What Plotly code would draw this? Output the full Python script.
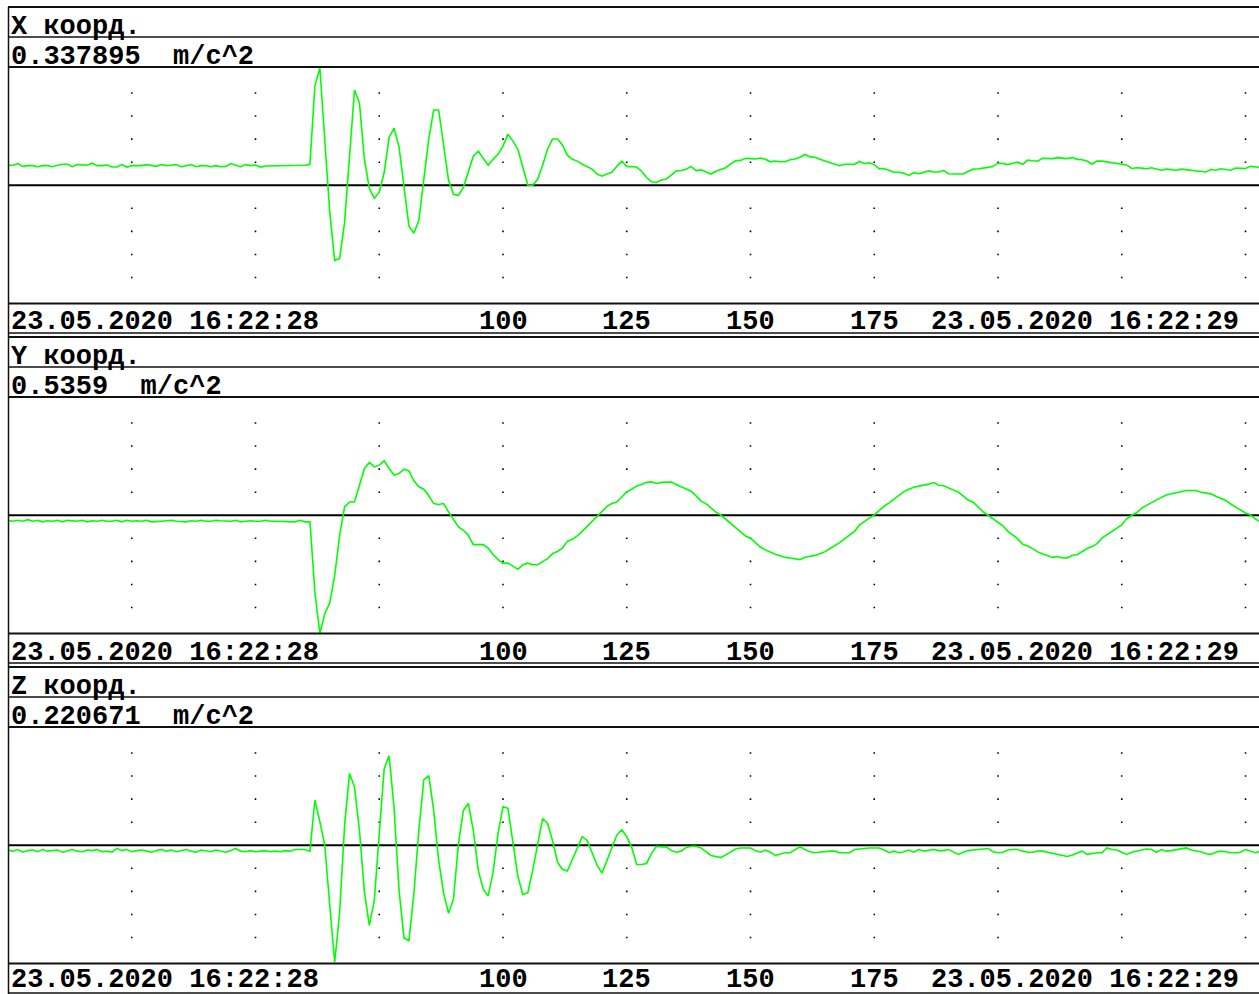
import plotly.graph_objects as go

# ---------------- data (acceleration, m/c^2; one sample per x unit) ----------------
X_ACC = [
    0.057, 0.057, 0.062, 0.054, 0.056, 0.056, 0.053, 0.056, 0.056, 0.053,
    0.057, 0.060, 0.060, 0.053, 0.059, 0.057, 0.057, 0.063, 0.056, 0.056,
    0.058, 0.052, 0.052, 0.059, 0.052, 0.056, 0.056, 0.056, 0.059, 0.056,
    0.054, 0.059, 0.056, 0.057, 0.059, 0.053, 0.056, 0.059, 0.053, 0.056,
    0.056, 0.053, 0.056, 0.053, 0.054, 0.062, 0.057, 0.053, 0.059, 0.056,
    0.058, 0.052, 0.055, 0.055, 0.055, 0.055, 0.055, 0.055, 0.055, 0.056, 0.057,
    0.060, 0.284, 0.335, 0.129, -0.077, -0.215, -0.209, -0.106, 0.086, 0.272,
    0.235, 0.074, -0.009, -0.037, -0.020, 0.037, 0.137, 0.163, 0.109, -0.011,
    -0.117, -0.137, -0.100, 0.017, 0.132, 0.215, 0.215, 0.115, 0.014, -0.026,
    -0.029, -0.006, 0.037, 0.083, 0.097, 0.077, 0.057, 0.074, 0.089, 0.112,
    0.146, 0.126, 0.103, 0.052, 0.000, 0.000, 0.017, 0.057, 0.103, 0.132,
    0.132, 0.115, 0.086, 0.074, 0.069, 0.060, 0.054, 0.046, 0.032, 0.026,
    0.032, 0.037, 0.054, 0.069, 0.054, 0.054, 0.052, 0.040,
    0.022, 0.010, 0.008, 0.015, 0.018, 0.029, 0.041, 0.042, 0.046, 0.054,
    0.042, 0.044, 0.039, 0.032, 0.040, 0.046, 0.050, 0.061, 0.070, 0.071,
    0.077, 0.076, 0.075, 0.078, 0.074, 0.067, 0.069, 0.067, 0.067, 0.073,
    0.075, 0.080, 0.088, 0.081, 0.080, 0.074, 0.069, 0.065, 0.061, 0.056,
    0.060, 0.061, 0.060, 0.068, 0.062, 0.064, 0.059, 0.047, 0.047, 0.043,
    0.037, 0.037, 0.034, 0.028, 0.036, 0.033, 0.037, 0.041, 0.038, 0.038,
    0.042, 0.033, 0.032, 0.032, 0.032, 0.040, 0.046, 0.047, 0.048, 0.051,
    0.054, 0.063, 0.062, 0.059, 0.063, 0.066, 0.060, 0.072, 0.070, 0.069,
    0.077, 0.076, 0.076, 0.079, 0.077, 0.076, 0.079, 0.074, 0.073, 0.069,
    0.060, 0.069, 0.069, 0.067, 0.065, 0.063, 0.061, 0.058, 0.048, 0.050,
    0.049, 0.047, 0.050, 0.047, 0.043, 0.046, 0.044, 0.043, 0.046, 0.044,
    0.042, 0.040, 0.039, 0.038, 0.045, 0.043, 0.047, 0.044, 0.043, 0.049,
    0.049, 0.048, 0.054, 0.053, 0.051,
]

Y_ACC = [
    -0.023, -0.027, -0.023, -0.027, -0.020, -0.027, -0.023, -0.030, -0.025, -0.027,
    -0.023, -0.030, -0.023, -0.025, -0.027, -0.023, -0.030, -0.025, -0.027, -0.023,
    -0.027, -0.027, -0.023, -0.030, -0.023, -0.027, -0.025, -0.027, -0.023, -0.030,
    -0.027, -0.027, -0.025, -0.023, -0.027, -0.027, -0.030, -0.025, -0.027, -0.023,
    -0.027, -0.027, -0.023, -0.025, -0.027, -0.027, -0.023, -0.030, -0.027, -0.025,
    -0.027, -0.027, -0.023, -0.027, -0.027, -0.027, -0.027, -0.030, -0.030, -0.023, -0.030,
    -0.030, -0.348, -0.536, -0.446, -0.397, -0.273, -0.091, 0.038, 0.060, 0.060,
    0.136, 0.212, 0.239, 0.219, 0.227, 0.247, 0.212, 0.182, 0.189, 0.209,
    0.201, 0.156, 0.129, 0.118, 0.088, 0.053, 0.049, 0.053, 0.015, -0.018,
    -0.053, -0.068, -0.091, -0.133, -0.133, -0.133, -0.149, -0.178, -0.201, -0.217,
    -0.217, -0.232, -0.245, -0.224, -0.217, -0.224, -0.224, -0.210, -0.197, -0.174,
    -0.164, -0.149, -0.118, -0.109, -0.094, -0.073, -0.051, -0.030, -0.008, 0.015,
    0.040, 0.053, 0.060, 0.083, 0.106, 0.118, 0.133, 0.139,
    0.149, 0.151, 0.144, 0.149, 0.150, 0.150, 0.139, 0.130, 0.121, 0.109,
    0.088, 0.064, 0.053, 0.033, 0.014, 0.001, -0.019, -0.039, -0.056, -0.075,
    -0.094, -0.104, -0.124, -0.144, -0.157, -0.168, -0.177, -0.184, -0.191, -0.194,
    -0.199, -0.201, -0.190, -0.186, -0.182, -0.174, -0.166, -0.152, -0.139, -0.124,
    -0.107, -0.091, -0.073, -0.045, -0.027, -0.013, 0.002, 0.022, 0.041, 0.056,
    0.072, 0.087, 0.107, 0.118, 0.127, 0.132, 0.135, 0.141, 0.148, 0.136,
    0.134, 0.125, 0.114, 0.105, 0.087, 0.068, 0.059, 0.038, 0.015, 0.000,
    -0.017, -0.034, -0.048, -0.073, -0.091, -0.107, -0.132, -0.139, -0.151, -0.166,
    -0.175, -0.183, -0.191, -0.187, -0.194, -0.193, -0.181, -0.179, -0.164, -0.151,
    -0.142, -0.129, -0.104, -0.090, -0.075, -0.060, -0.044, -0.016, 0.000, 0.011,
    0.031, 0.045, 0.058, 0.071, 0.081, 0.092, 0.097, 0.103, 0.108, 0.112,
    0.112, 0.112, 0.104, 0.099, 0.097, 0.086, 0.076, 0.067, 0.051, 0.036,
    0.022, 0.010, 0.002, -0.017, -0.030,
]

Z_ACC = [
    -0.009, -0.011, -0.008, -0.013, -0.010, -0.009, -0.012, -0.008, -0.011, -0.010,
    -0.009, -0.013, -0.010, -0.008, -0.011, -0.012, -0.009, -0.010, -0.008, -0.012,
    -0.011, -0.013, -0.006, -0.010, -0.008, -0.012, -0.010, -0.009, -0.011, -0.013,
    -0.010, -0.008, -0.011, -0.009, -0.012, -0.010, -0.008, -0.011, -0.013, -0.009,
    -0.010, -0.012, -0.009, -0.011, -0.013, -0.010, -0.006, -0.011, -0.012, -0.010,
    -0.012, -0.011, -0.010, -0.012, -0.011, -0.012, -0.010, -0.011, -0.008, -0.008, -0.008,
    -0.011, 0.084, 0.044, 0.000, -0.112, -0.218, -0.125, 0.037, 0.134, 0.109,
    0.028, -0.087, -0.150, -0.103, 0.021, 0.143, 0.167, 0.069, -0.084, -0.173,
    -0.178, -0.090, 0.028, 0.122, 0.130, 0.065, -0.028, -0.089, -0.127, -0.100,
    0.003, 0.065, 0.078, 0.028, -0.047, -0.082, -0.095, -0.050, 0.022, 0.072,
    0.069, 0.009, -0.058, -0.092, -0.089, -0.047, 0.003, 0.050, 0.041, 0.009,
    -0.031, -0.045, -0.048, -0.027, -0.003, 0.016, 0.009, -0.016, -0.037, -0.052,
    -0.028, -0.006, 0.019, 0.029, 0.016, -0.004, -0.036, -0.036,
    -0.034, -0.015, -0.002, -0.003, -0.003, -0.010, -0.013, -0.011, -0.004, -0.002,
    -0.002, -0.005, -0.012, -0.019, -0.021, -0.023, -0.018, -0.013, -0.007, -0.005,
    -0.005, -0.005, -0.010, -0.013, -0.009, -0.013, -0.019, -0.016, -0.014, -0.014,
    -0.009, -0.003, -0.008, -0.012, -0.014, -0.013, -0.011, -0.011, -0.011, -0.014,
    -0.014, -0.014, -0.008, -0.007, -0.005, -0.005, -0.005, -0.005, -0.009, -0.014,
    -0.011, -0.014, -0.012, -0.009, -0.013, -0.008, -0.011, -0.009, -0.008, -0.010,
    -0.010, -0.008, -0.013, -0.017, -0.013, -0.010, -0.009, -0.008, -0.008, -0.006,
    -0.012, -0.014, -0.013, -0.009, -0.008, -0.008, -0.011, -0.013, -0.013, -0.011,
    -0.011, -0.013, -0.016, -0.018, -0.019, -0.021, -0.018, -0.015, -0.011, -0.017,
    -0.015, -0.014, -0.014, -0.005, -0.008, -0.009, -0.013, -0.017, -0.013, -0.011,
    -0.008, -0.007, -0.008, -0.013, -0.008, -0.011, -0.010, -0.008, -0.007, -0.005,
    -0.009, -0.010, -0.012, -0.016, -0.017, -0.013, -0.011, -0.012, -0.014, -0.014,
    -0.013, -0.008, -0.011, -0.014, -0.011,
]

PANEL_TITLES = ["X коорд.", "Y коорд.", "Z коорд."]
SCALE_TEXT = ["0.337895", "0.5359", "0.220671"]
SCALE_VALUES = [0.337895, 0.5359, 0.220671]
UNIT = "m/c^2"
TICK_VALUES = [100, 125, 150, 175]
START_LABEL = "23.05.2020 16:22:28"
END_LABEL = "23.05.2020 16:22:29"
GRID_X = [25, 50, 75, 100, 125, 150, 175, 200, 225, 250]
GRID_FRAC = [-0.78, -0.585, -0.39, -0.195, 0.195, 0.39, 0.585, 0.78]

# ---------------- layout geometry (pixels) ----------------
W, H = 1259, 994
LEFT = 8
PX_PER_UNIT = 4.95
PANEL_TOP = [7, 337, 667]       # top of each panel header
ROW = 30
PLOT_H = 236.5
LABEL_OFFSET = [19, 19, 16]     # label-row centre below plot bottom (last row kept inside page)
TEXT_LEFT = LEFT + 2.5

def py(p):
    return 1 - p / H

def px(p):
    return p / W

FONT = dict(family="Courier New, Liberation Mono, monospace", size=27, color="#000000", weight="bold")
GREEN = "#00ff00"
ANN = dict(showarrow=False, font=FONT, borderpad=0, borderwidth=0)

fig = go.Figure()
series = [X_ACC, Y_ACC, Z_ACC]
annotations = []
shapes = []

for k in range(3):
    sfx = "" if k == 0 else str(k + 1)
    xa, ya = "x" + sfx, "y" + sfx
    top = PANEL_TOP[k]
    plot_top = top + 2 * ROW
    plot_bot = plot_top + PLOT_H
    R = SCALE_VALUES[k]

    fig.update_layout(**{
        "xaxis" + sfx: dict(domain=[px(LEFT), 1], range=[0, (W - LEFT) / PX_PER_UNIT],
                            visible=False, anchor=ya, fixedrange=True),
        "yaxis" + sfx: dict(domain=[py(plot_bot), py(plot_top)], range=[-R, R],
                            visible=False, anchor=xa, fixedrange=True),
    })

    # dotted grid
    gx = [g for g in GRID_X for _ in GRID_FRAC]
    gy = [f * R for _ in GRID_X for f in GRID_FRAC]
    fig.add_trace(go.Scatter(x=gx, y=gy, mode="markers", xaxis=xa, yaxis=ya,
                             marker=dict(symbol="square", size=1.6, color="#000000"),
                             hoverinfo="skip", showlegend=False))
    # signal
    data = series[k]
    fig.add_trace(go.Scatter(x=list(range(len(data))), y=data, mode="lines",
                             xaxis=xa, yaxis=ya, line=dict(color=GREEN, width=1.6),
                             showlegend=False))
    # zero line
    shapes.append(dict(type="line", xref="paper", yref=ya, x0=px(LEFT), x1=1, y0=0, y1=0,
                       line=dict(color="#000000", width=2), layer="below"))

    # frame lines
    for yy, wdt in [(top, 2), (top + ROW, 1.5), (plot_top, 2), (plot_bot, 2), (plot_bot + ROW - 0.5, 1.5)]:
        shapes.append(dict(type="line", xref="paper", yref="paper", x0=px(LEFT), x1=1,
                           y0=py(yy), y1=py(yy), line=dict(color="#111111", width=wdt)))

    # header texts
    annotations.append(dict(text=PANEL_TITLES[k], xref="paper", yref="paper", x=px(TEXT_LEFT),
                            y=py(top + 20), xanchor="left", yanchor="middle", **ANN))
    annotations.append(dict(text=SCALE_TEXT[k] + "  " + UNIT, xref="paper", yref="paper", x=px(TEXT_LEFT),
                            y=py(top + ROW + 20), xanchor="left", yanchor="middle", **ANN))
    # axis labels row
    label_y = py(plot_bot + LABEL_OFFSET[k])
    annotations.append(dict(text=START_LABEL, xref="paper", yref="paper", x=px(TEXT_LEFT), y=label_y,
                            xanchor="left", yanchor="middle", **ANN))
    annotations.append(dict(text=END_LABEL, xref="paper", yref="paper", x=px(1239), y=label_y,
                            xanchor="right", yanchor="middle", **ANN))
    for t in TICK_VALUES:
        annotations.append(dict(text=str(t), xref=xa, yref="paper", x=t, y=label_y,
                                xanchor="center", yanchor="middle", **ANN))

# left border
shapes.append(dict(type="line", xref="paper", yref="paper", x0=px(LEFT + 0.5), x1=px(LEFT + 0.5),
                   y0=py(PANEL_TOP[0]), y1=0, line=dict(color="#111111", width=1.5)))

fig.update_layout(width=W, height=H, margin=dict(l=0, r=0, t=0, b=0),
                  paper_bgcolor="#ffffff", plot_bgcolor="#ffffff",
                  shapes=shapes, annotations=annotations, showlegend=False)

fig.write_html("out.html", config={"displayModeBar": False},
               post_script="document.body.style.margin='0';document.body.style.overflow='hidden';")
